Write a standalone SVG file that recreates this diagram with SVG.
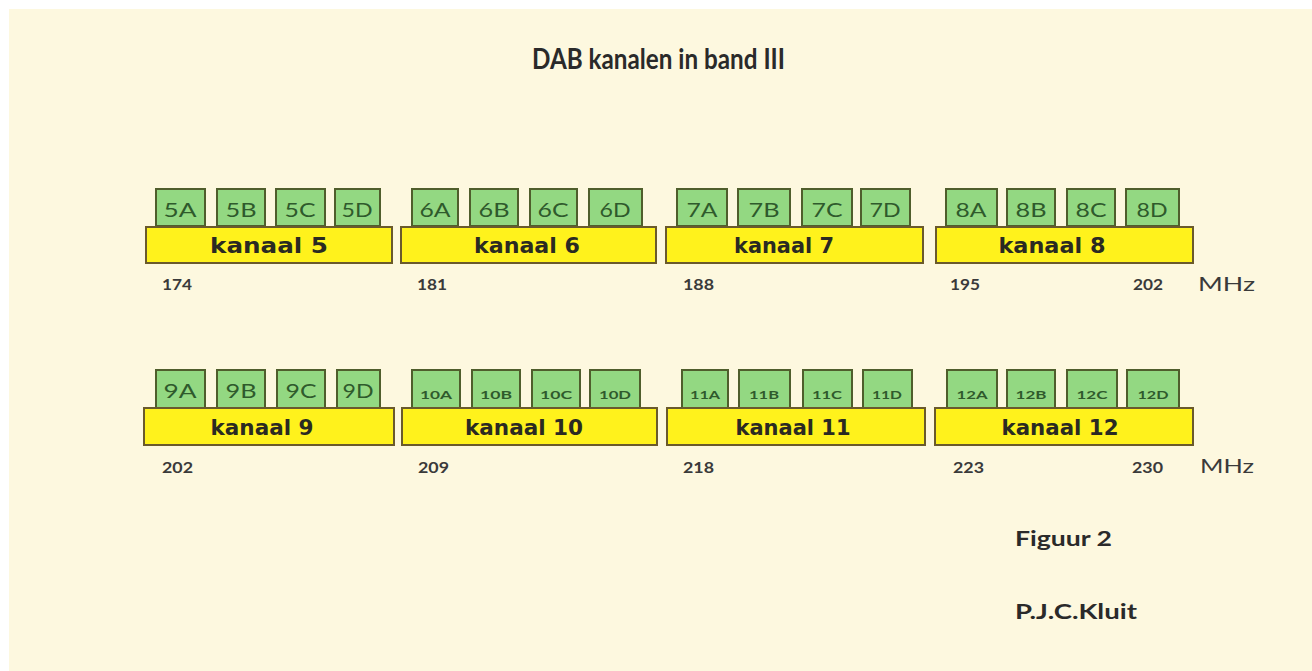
<svg xmlns="http://www.w3.org/2000/svg" width="1312" height="671" viewBox="0 0 1312 671">
<style>
.sb{fill:#93d882;stroke:#4f5e2c;stroke-width:2}
.bb{fill:#fff21c;stroke:#6a5a2c;stroke-width:2}
.sl{font-family:Lato,"Open Sans","Liberation Sans",sans-serif;font-size:20px;fill:#2f5a2c;text-anchor:middle}
.sl2{font-family:Lato,"Open Sans","Liberation Sans",sans-serif;font-size:12px;font-weight:bold;fill:#2f5a2c;text-anchor:middle}
.kl{font-family:"DejaVu Sans",Verdana,sans-serif;font-size:21px;font-weight:bold;fill:#2a2a22;text-anchor:middle}
.nl{font-family:Lato,"Open Sans","Liberation Sans",sans-serif;font-size:15px;font-weight:bold;fill:#3a3a3a}
.mhz{font-family:Lato,"Open Sans","Liberation Sans",sans-serif;font-size:20px;fill:#3a3a3a}
.tt{font-family:Lato,"Open Sans","Liberation Sans",sans-serif;font-weight:bold;fill:#2a2a2a}
</style>
<rect x="0" y="0" width="1312" height="671" fill="#ffffff"/>
<rect x="9" y="9" width="1303" height="662" fill="#fdf8df"/>
<text class="tt" x="532" y="69" font-size="28" textLength="253" lengthAdjust="spacingAndGlyphs">DAB kanalen in band III</text>

<g id="kanaal5">
<rect class="sb" x="156" y="189" width="49" height="37"/><rect class="sb" x="217" y="189" width="48" height="37"/><rect class="sb" x="276" y="189" width="49" height="37"/><rect class="sb" x="335" y="189" width="45" height="37"/>
<text class="sl" x="180" y="217" textLength="33" lengthAdjust="spacingAndGlyphs">5A</text><text class="sl" x="241" y="217" textLength="31" lengthAdjust="spacingAndGlyphs">5B</text><text class="sl" x="300" y="217" textLength="31" lengthAdjust="spacingAndGlyphs">5C</text><text class="sl" x="357" y="217" textLength="31" lengthAdjust="spacingAndGlyphs">5D</text>
<rect class="bb" x="146" y="227" width="246" height="36"/>
<text class="kl" x="269" y="253" textLength="118" lengthAdjust="spacingAndGlyphs">kanaal 5</text>
</g>
<g id="kanaal6">
<rect class="sb" x="412" y="189" width="46" height="37"/><rect class="sb" x="470" y="189" width="48" height="37"/><rect class="sb" x="530" y="189" width="47" height="37"/><rect class="sb" x="589" y="189" width="53" height="37"/>
<text class="sl" x="435" y="217" textLength="31" lengthAdjust="spacingAndGlyphs">6A</text><text class="sl" x="494" y="217" textLength="31" lengthAdjust="spacingAndGlyphs">6B</text><text class="sl" x="553" y="217" textLength="31" lengthAdjust="spacingAndGlyphs">6C</text><text class="sl" x="615" y="217" textLength="31" lengthAdjust="spacingAndGlyphs">6D</text>
<rect class="bb" x="401" y="227" width="255" height="36"/>
<text class="kl" x="527" y="253" textLength="106" lengthAdjust="spacingAndGlyphs">kanaal 6</text>
</g>
<g id="kanaal7">
<rect class="sb" x="677" y="189" width="50" height="37"/><rect class="sb" x="738" y="189" width="52" height="37"/><rect class="sb" x="802" y="189" width="50" height="37"/><rect class="sb" x="861" y="189" width="49" height="37"/>
<text class="sl" x="702" y="217" textLength="31" lengthAdjust="spacingAndGlyphs">7A</text><text class="sl" x="764" y="217" textLength="31" lengthAdjust="spacingAndGlyphs">7B</text><text class="sl" x="827" y="217" textLength="31" lengthAdjust="spacingAndGlyphs">7C</text><text class="sl" x="885" y="217" textLength="31" lengthAdjust="spacingAndGlyphs">7D</text>
<rect class="bb" x="666" y="227" width="257" height="36"/>
<text class="kl" x="784" y="253" textLength="100" lengthAdjust="spacingAndGlyphs">kanaal 7</text>
</g>
<g id="kanaal8">
<rect class="sb" x="946" y="189" width="51" height="37"/><rect class="sb" x="1007" y="189" width="48" height="37"/><rect class="sb" x="1067" y="189" width="48" height="37"/><rect class="sb" x="1126" y="189" width="53" height="37"/>
<text class="sl" x="971" y="217" textLength="31" lengthAdjust="spacingAndGlyphs">8A</text><text class="sl" x="1031" y="217" textLength="31" lengthAdjust="spacingAndGlyphs">8B</text><text class="sl" x="1091" y="217" textLength="31" lengthAdjust="spacingAndGlyphs">8C</text><text class="sl" x="1152" y="217" textLength="31" lengthAdjust="spacingAndGlyphs">8D</text>
<rect class="bb" x="936" y="227" width="257" height="36"/>
<text class="kl" x="1052" y="253" textLength="107" lengthAdjust="spacingAndGlyphs">kanaal 8</text>
</g>
<g id="freq1">
<text class="nl" x="162" y="290" textLength="30" lengthAdjust="spacingAndGlyphs">174</text>
<text class="nl" x="417" y="290" textLength="30" lengthAdjust="spacingAndGlyphs">181</text>
<text class="nl" x="683" y="290" textLength="31" lengthAdjust="spacingAndGlyphs">188</text>
<text class="nl" x="950" y="290" textLength="30" lengthAdjust="spacingAndGlyphs">195</text>
<text class="nl" x="1133" y="290" textLength="30" lengthAdjust="spacingAndGlyphs">202</text>
<text class="mhz" x="1198" y="291" textLength="57" lengthAdjust="spacingAndGlyphs">MHz</text>
</g>

<g id="kanaal9">
<rect class="sb" x="156" y="370" width="49" height="38"/><rect class="sb" x="217" y="370" width="48" height="38"/><rect class="sb" x="277" y="370" width="48" height="38"/><rect class="sb" x="337" y="370" width="43" height="38"/>
<text class="sl" x="180" y="398" textLength="33" lengthAdjust="spacingAndGlyphs">9A</text><text class="sl" x="241" y="398" textLength="31" lengthAdjust="spacingAndGlyphs">9B</text><text class="sl" x="301" y="398" textLength="31" lengthAdjust="spacingAndGlyphs">9C</text><text class="sl" x="358" y="398" textLength="31" lengthAdjust="spacingAndGlyphs">9D</text>
<rect class="bb" x="144" y="408" width="250" height="37"/>
<text class="kl" x="262" y="435" textLength="103" lengthAdjust="spacingAndGlyphs">kanaal 9</text>
</g>
<g id="kanaal10">
<rect class="sb" x="412" y="370" width="48" height="38"/><rect class="sb" x="472" y="370" width="48" height="38"/><rect class="sb" x="532" y="370" width="48" height="38"/><rect class="sb" x="590" y="370" width="50" height="38"/>
<text class="sl2" x="436" y="399" textLength="32" lengthAdjust="spacingAndGlyphs">10A</text><text class="sl2" x="496" y="399" textLength="32" lengthAdjust="spacingAndGlyphs">10B</text><text class="sl2" x="556" y="399" textLength="32" lengthAdjust="spacingAndGlyphs">10C</text><text class="sl2" x="615" y="399" textLength="32" lengthAdjust="spacingAndGlyphs">10D</text>
<rect class="bb" x="402" y="408" width="255" height="37"/>
<text class="kl" x="524" y="435" textLength="118" lengthAdjust="spacingAndGlyphs">kanaal 10</text>
</g>
<g id="kanaal11">
<rect class="sb" x="682" y="370" width="46" height="38"/><rect class="sb" x="739" y="370" width="51" height="38"/><rect class="sb" x="803" y="370" width="49" height="38"/><rect class="sb" x="863" y="370" width="49" height="38"/>
<text class="sl2" x="705" y="399" textLength="30" lengthAdjust="spacingAndGlyphs">11A</text><text class="sl2" x="764" y="399" textLength="30" lengthAdjust="spacingAndGlyphs">11B</text><text class="sl2" x="827" y="399" textLength="30" lengthAdjust="spacingAndGlyphs">11C</text><text class="sl2" x="887" y="399" textLength="30" lengthAdjust="spacingAndGlyphs">11D</text>
<rect class="bb" x="667" y="408" width="258" height="37"/>
<text class="kl" x="793" y="435" textLength="115" lengthAdjust="spacingAndGlyphs">kanaal 11</text>
</g>
<g id="kanaal12">
<rect class="sb" x="947" y="370" width="50" height="38"/><rect class="sb" x="1007" y="370" width="48" height="38"/><rect class="sb" x="1067" y="370" width="50" height="38"/><rect class="sb" x="1127" y="370" width="52" height="38"/>
<text class="sl2" x="972" y="399" textLength="31" lengthAdjust="spacingAndGlyphs">12A</text><text class="sl2" x="1031" y="399" textLength="31" lengthAdjust="spacingAndGlyphs">12B</text><text class="sl2" x="1092" y="399" textLength="31" lengthAdjust="spacingAndGlyphs">12C</text><text class="sl2" x="1153" y="399" textLength="31" lengthAdjust="spacingAndGlyphs">12D</text>
<rect class="bb" x="935" y="408" width="258" height="37"/>
<text class="kl" x="1060" y="435" textLength="117" lengthAdjust="spacingAndGlyphs">kanaal 12</text>
</g>
<g id="freq2">
<text class="nl" x="162" y="473" textLength="31" lengthAdjust="spacingAndGlyphs">202</text>
<text class="nl" x="418" y="473" textLength="31" lengthAdjust="spacingAndGlyphs">209</text>
<text class="nl" x="683" y="473" textLength="31" lengthAdjust="spacingAndGlyphs">218</text>
<text class="nl" x="953" y="473" textLength="31" lengthAdjust="spacingAndGlyphs">223</text>
<text class="nl" x="1132" y="473" textLength="31" lengthAdjust="spacingAndGlyphs">230</text>
<text class="mhz" x="1200" y="473" textLength="54" lengthAdjust="spacingAndGlyphs">MHz</text>
</g>
<text class="tt" x="1015" y="546" font-size="20" textLength="97" lengthAdjust="spacingAndGlyphs">Figuur 2</text>
<text class="tt" x="1015" y="619" font-size="20" textLength="122" lengthAdjust="spacingAndGlyphs">P.J.C.Kluit</text>
</svg>
